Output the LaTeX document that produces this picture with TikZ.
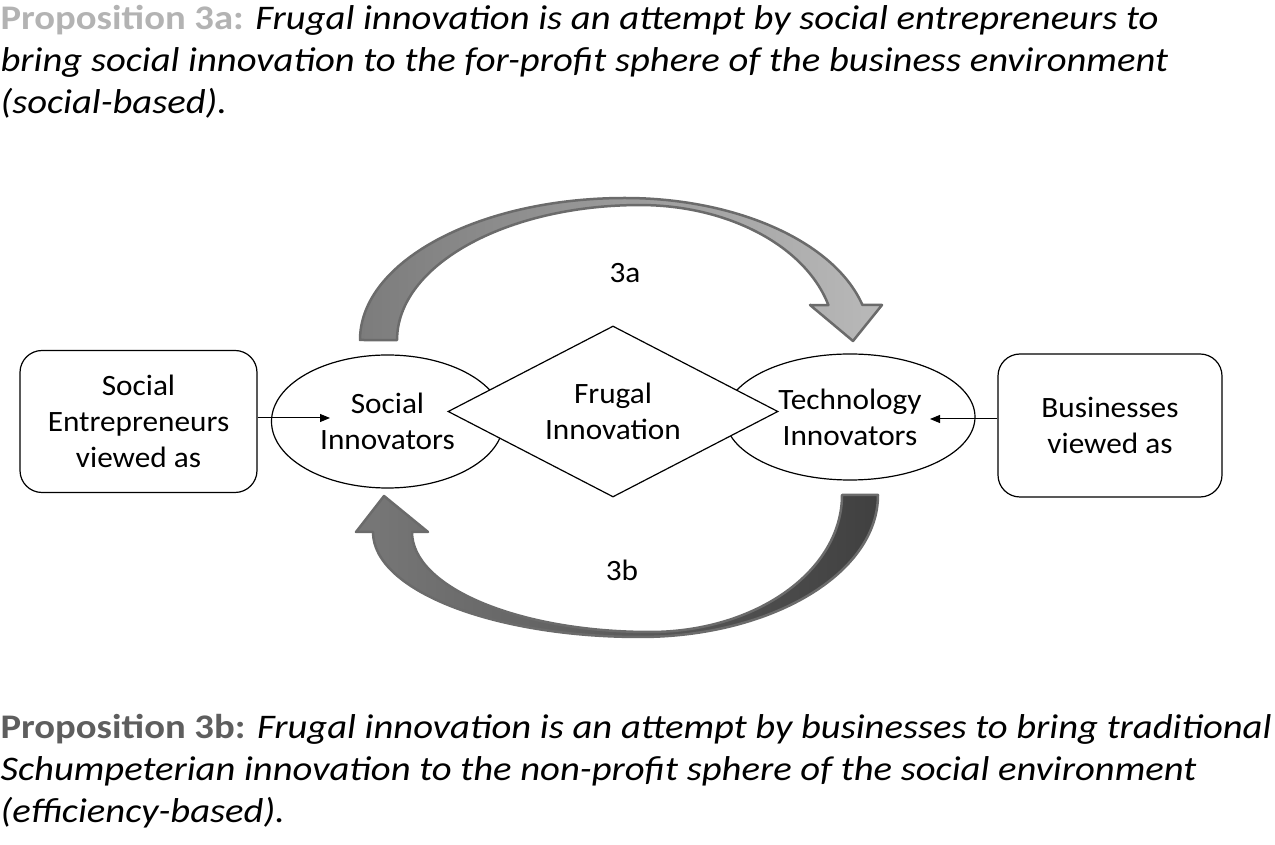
\documentclass[tikz,border=0pt]{standalone}
\usepackage{fontspec}
\setmainfont{Carlito}[FakeStretch=1.06]
\newfontfamily\propfont{Carlito}[FakeStretch=1.12]
\usepackage{xcolor}
\usepackage{tikz}
\usetikzlibrary{shapes.geometric,positioning,arrows.meta}

\definecolor{proplight}{HTML}{B3B3B3}
\definecolor{propdark}{HTML}{5E5E5E}
\definecolor{arrowedge}{HTML}{6B6B6B}
\definecolor{upleft}{HTML}{7C7C7C}
\definecolor{upright}{HTML}{B9B9B9}
\definecolor{downleft}{HTML}{787878}
\definecolor{downright}{HTML}{404040}

\begin{document}
\begin{tikzpicture}[x=1pt,y=1pt,on grid,font=\fontsize{29.5}{36}\selectfont,line width=1.2pt,
	viewbox/.style={draw,rounded corners=22pt,align=center,minimum width=237pt,minimum height=142pt,inner sep=0pt},
	innov/.style={draw,ellipse,fill=white,align=center,inner sep=0pt},
	frugal/.style={draw,diamond,aspect=1.93,fill=white,align=center,minimum width=330pt,minimum height=171pt,inner sep=0pt},
	bigarrow/.style={draw=arrowedge,line width=2.5pt,line join=round},
	viewarrow/.style={-{Triangle[length=10pt,width=8pt]},line width=1pt},
	prop/.style={anchor=north west,align=left,inner sep=0pt,font=\propfont\fontsize{34.5}{42}\selectfont}]
	\useasboundingbox (0,0) rectangle (1275,844);

	% propositions
	\node[prop] (propA) at (0,839) {{\bfseries\color{proplight}Proposition 3a:} \textit{Frugal innovation is an attempt by social entrepreneurs to}\\
		\textit{bring social innovation to the for-profit sphere of the business environment}\\
		\textit{(social-based).}};
	\node[prop] (propB) at (0,130) {{\bfseries\color{propdark}Proposition 3b:} \textit{Frugal innovation is an attempt by businesses to bring traditional}\\
		\textit{Schumpeterian innovation to the non-profit sphere of the social environment}\\
		\textit{(efficiency-based).}};

	% curved arrows
	\path[bigarrow,left color=upleft,right color=upright]
	(360,504) arc[start angle=180,end angle=90,x radius=265,y radius=142]
	arc[start angle=90,end angle=14.3,x radius=245,y radius=142]
	-- (882,539) -- (853,503) -- (810,539) -- (828.4,538.9)
	arc[start angle=15,end angle=90,x radius=195,y radius=135]
	arc[start angle=90,end angle=180,x radius=243,y radius=135] -- cycle;
	\path[bigarrow,left color=downleft,middle color=downleft!85!downright,right color=downright]
	(878,349) arc[start angle=0,end angle=-90,x radius=238,y radius=142]
	arc[start angle=-90,end angle=-180,x radius=267,y radius=105]
	-- (356,312) -- (384,348) -- (428,312) -- (412,312)
	arc[start angle=180,end angle=270,x radius=238,y radius=100]
	arc[start angle=270,end angle=360,x radius=192,y radius=137] -- cycle;
	\node (lab3a) at (625,571) {3a};
	\node (lab3b) at (622,274) {3b};

	% actors
	\node[innov,minimum width=232pt,minimum height=133pt] (socinn) at (387.5,422.5) {Social\\Innovators};
	\node[innov,minimum width=250pt,minimum height=126pt] (techinn) at (850,427) {Technology\\Innovators};
	\node[frugal] (frug) at (613,432.5) {Frugal\\Innovation};
	\node[viewbox] (socent) [left=249pt of socinn] {Social\\Entrepreneurs\\viewed as};
	\node[viewbox,minimum width=224pt,minimum height=143pt] (bus) at (1110,418.5) {Businesses\\viewed as};

	\coordinate (inS) at (330,426);
	\coordinate (inT) at (930,425);
	\draw[viewarrow] (socent.east |- inS) -- (inS);
	\draw[viewarrow] (bus.west |- inT) -- (inT);
\end{tikzpicture}
\end{document}
